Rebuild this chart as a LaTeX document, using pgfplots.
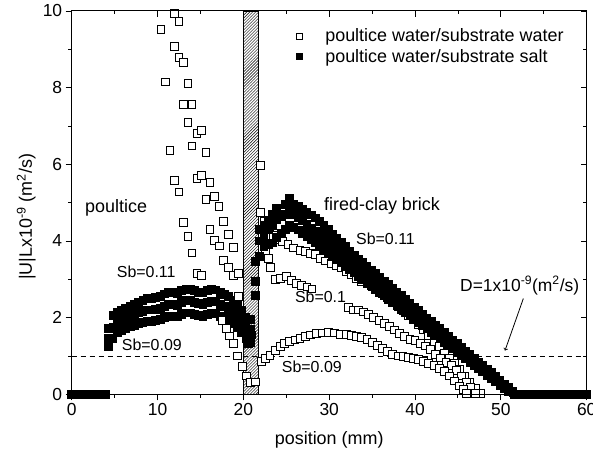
\documentclass[border=0pt]{standalone}
\usepackage{fontspec}
\setmainfont{Liberation Sans}
\usepackage{pgfplots}
\pgfplotsset{compat=1.18}
\usetikzlibrary{patterns}

\pgfplotsset{
  openm/.style={only marks, mark=square*, mark size=3.9bp, mark options={fill=white, draw=black, line width=0.9bp}},
  fillm/.style={only marks, mark=square*, mark size=3.9bp, mark options={fill=black, draw=black, line width=0.9bp}},
}

\begin{document}
\begin{tikzpicture}
\begin{axis}[
  name=main,
  scale only axis, width=515bp, height=383.3bp,
  xmin=0, xmax=60, ymin=0, ymax=10,
  xtick={0,10,...,60}, ytick={0,2,...,10},
  minor x tick num=1, minor y tick num=1,
  xtick pos=left, ytick pos=left,
  tick align=outside,
  major tick length=6bp, minor tick length=3.5bp,
  axis line style={line width=1bp},
  every tick/.style={black, line width=0.9bp},
  tick label style={font=\fontsize{17.5}{19}\selectfont},
  /pgf/number format/assume math mode=true,
  xlabel={position (mm)},
  ylabel={|U|Lx10\textsuperscript{-9} (m\textsuperscript{2}/s)},
  label style={font=\fontsize{18}{20}\selectfont},
  xlabel style={at={(axis description cs:0.5,-0.119)}, anchor=center},
  ylabel style={at={(axis description cs:-0.088,0.463)}, anchor=center},
  legend style={draw=none, fill=none, at={(rel axis cs:0.430,0.964)}, anchor=north west,
    font=\fontsize{18}{20}\selectfont, row sep=2bp,
    /tikz/every odd column/.append style={column sep=21bp}},
  legend cell align=left,
]
\addlegendimage{only marks, mark=square*, mark size=3.0bp, mark options={fill=white, draw=black, line width=0.9bp}}
\addlegendentry{poultice water/substrate water}
\addlegendimage{only marks, mark=square*, mark size=3.0bp, mark options={fill=black, draw=black, line width=0.9bp}}
\addlegendentry{poultice water/substrate salt}

% filled zero strips
\addplot[fillm, forget plot] coordinates {(0,0)(0.5,0)(1,0)(1.5,0)(2,0)(2.5,0)(3,0)(3.5,0)(4,0)};
\addplot[fillm, forget plot] coordinates {(51.6,0)(52,0)(52.5,0)(53,0)(53.5,0)(54,0)(54.5,0)(55,0)(55.5,0)(56,0)(56.5,0)(57,0)(57.5,0)(58,0)(58.5,0)(59,0)(59.5,0)(60,0)};

% filled poultice bands
\addplot[fillm, forget plot] coordinates {(4.3,1.72)(4.8,2.05)(5.3,2.15)(5.8,2.20)(6.3,2.25)(6.8,2.30)(7.3,2.35)(7.8,2.40)(8.3,2.45)(8.8,2.50)(9.3,2.50)(9.8,2.52)(10.3,2.55)(10.8,2.62)(11.3,2.66)(11.8,2.65)(12.3,2.62)(12.8,2.70)(13.3,2.75)(13.8,2.74)(14.3,2.70)(14.8,2.66)(15.3,2.65)(15.8,2.70)(16.3,2.73)(16.8,2.72)(17.3,2.65)(17.8,2.60)(18.3,2.55)(18.8,2.45)(19.3,2.35)(19.8,2.20)(20.3,2.00)(20.8,1.95)};
\addplot[fillm, forget plot] coordinates {(4.3,1.46)(4.8,1.75)(5.3,1.87)(5.8,1.92)(6.3,1.97)(6.8,2.02)(7.3,2.07)(7.8,2.12)(8.3,2.16)(8.8,2.20)(9.3,2.20)(9.8,2.22)(10.3,2.25)(10.8,2.30)(11.3,2.35)(11.8,2.34)(12.3,2.32)(12.8,2.40)(13.3,2.45)(13.8,2.44)(14.3,2.40)(14.8,2.36)(15.3,2.35)(15.8,2.40)(16.3,2.42)(16.8,2.42)(17.3,2.35)(17.8,2.30)(18.3,2.25)(18.8,2.15)(19.3,2.05)(19.8,1.90)(20.3,1.75)(20.8,1.70)};
\addplot[fillm, forget plot] coordinates {(4.3,1.24)(4.8,1.45)(5.3,1.60)(5.8,1.67)(6.3,1.72)(6.8,1.76)(7.3,1.80)(7.8,1.84)(8.3,1.88)(8.8,1.90)(9.3,1.90)(9.8,1.92)(10.3,1.95)(10.8,2.00)(11.3,2.04)(11.8,2.03)(12.3,2.02)(12.8,2.08)(13.3,2.12)(13.8,2.12)(14.3,2.08)(14.8,2.05)(15.3,2.04)(15.8,2.08)(16.3,2.10)(16.8,2.10)(17.3,2.04)(17.8,2.00)(18.3,1.95)(18.8,1.85)(19.3,1.75)(19.8,1.60)(20.3,1.45)(20.8,1.35)};
\addplot[fillm, forget plot] coordinates {(21.4,3.46)(21.4,2.94)(21.4,2.57)(20.6,1.33)(21.0,1.55)};

% open poultice scatter
\addplot[openm, forget plot] coordinates {(10.4,9.52)(11.96,9.94)(12.5,9.72)(11.95,9.07)(12.5,8.79)(13.0,8.65)(10.95,8.15)(13.55,8.10)(13.0,7.57)(14.0,7.57)(13.55,7.09)(14.6,6.81)(15.1,6.88)(11.45,6.37)(14.0,6.48)(15.65,6.30)(11.96,5.57)(14.6,5.63)(15.1,5.70)(16.1,5.52)(12.5,5.28)(15.65,5.09)(16.66,5.16)(17.16,4.91)(13.0,4.48)(13.55,4.11)(14.0,3.69)(14.6,3.16)(15.1,3.11)(17.7,4.50)(16.1,4.31)(18.3,4.18)(16.66,4.01)(17.2,3.87)(18.8,3.83)(17.7,3.50)(18.3,3.31)(18.8,3.11)(19.4,3.15)(19.4,2.56)(17.5,1.92)(18.0,1.72)(18.4,1.52)(18.85,1.33)(19.35,1.0)(19.9,0.72)(20.4,0.48)(20.8,0.3)(21.4,0.32)};

% open brick curves
\addplot[openm, forget plot] coordinates {(21.95,5.98)(22.0,4.75)(22.5,4.5)(23.0,4.3)(23.5,4.15)(24.0,4.05)(24.6,3.98)(25.2,3.9)(25.8,3.82)(26.6,3.76)(27.2,3.72)(27.8,3.68)(28.4,3.65)(29.0,3.55)(29.6,3.48)(30.2,3.42)(30.8,3.37)(31.4,3.3)(32.0,3.2)(32.6,3.12)(33.2,3.03)(33.8,2.95)(34.4,2.88)(35.0,2.8)(35.6,2.72)(36.2,2.62)(36.8,2.52)(37.4,2.42)(38.0,2.3)(38.6,2.18)(39.2,2.06)(39.8,1.95)(40.4,1.82)(41.0,1.68)(41.6,1.52)(42.2,1.38)(42.8,1.24)(43.4,1.08)(44.0,0.94)(44.6,0.8)(45.2,0.64)(45.8,0.48)(46.4,0.32)(47.0,0.16)(47.6,0.02)};
\addplot[openm, forget plot] coordinates {(21.9,4.3)(22.3,4.0)(22.6,3.75)(22.9,3.55)(23.2,3.3)(23.7,3.0)(24.3,3.03)(25.0,3.07)(25.6,2.98)(26.2,2.9)(26.8,2.85)(27.4,2.8)(28.0,2.75)(32.2,2.27)(32.8,2.2)(33.4,2.2)(34.0,2.15)(34.6,2.08)(35.2,2.0)(35.8,1.93)(36.4,1.85)(37.0,1.76)(37.6,1.68)(38.2,1.58)(38.8,1.5)(39.4,1.44)(40.0,1.4)(40.6,1.33)(41.2,1.26)(41.8,1.16)(42.4,1.05)(43.0,0.95)(43.6,0.84)(44.2,0.75)(44.8,0.62)(45.4,0.48)(46.0,0.32)(46.5,0.17)(47.0,0.03)};
\addplot[openm, forget plot] coordinates {(22.1,0.85)(22.6,0.94)(23.1,1.02)(23.7,1.14)(24.3,1.24)(24.8,1.32)(25.4,1.37)(26.0,1.42)(26.6,1.46)(27.2,1.5)(27.8,1.55)(28.5,1.58)(29.2,1.6)(29.9,1.62)(30.6,1.6)(31.3,1.57)(32.0,1.56)(32.6,1.54)(33.2,1.5)(33.8,1.48)(34.4,1.44)(35.0,1.36)(35.6,1.28)(36.2,1.2)(36.8,1.12)(37.4,1.05)(38.0,1.0)(38.6,0.98)(39.2,0.96)(39.8,0.94)(40.4,0.9)(41.0,0.86)(41.6,0.81)(42.2,0.75)(42.8,0.68)(43.4,0.6)(44.0,0.48)(44.6,0.35)(45.2,0.22)(45.6,0.12)(46.0,0.03)};

% filled brick curves
\addplot[fillm, forget plot] coordinates {(21.9,4.3)(22.4,4.4)(22.9,4.55)(23.4,4.7)(23.9,4.85)(24.4,4.7)(24.9,4.95)(25.4,5.1)(25.9,4.95)(26.4,4.9)(26.9,4.82)(27.4,4.75)(27.9,4.68)(28.4,4.6)(28.9,4.5)(29.4,4.4)(29.9,4.3)(30.4,4.18)(30.9,4.07)(31.4,3.96)(31.9,3.85)(32.4,3.74)(32.9,3.63)(33.4,3.53)(33.9,3.43)(34.4,3.34)(34.9,3.24)(35.4,3.15)(35.9,3.05)(36.4,2.95)(36.9,2.86)(37.4,2.76)(37.9,2.67)(38.4,2.57)(38.9,2.47)(39.4,2.38)(39.9,2.28)(40.4,2.19)(40.9,2.09)(41.4,1.99)(41.9,1.90)(42.4,1.80)(42.9,1.71)(43.4,1.61)(43.9,1.52)(44.4,1.42)(44.9,1.32)(45.4,1.23)(45.9,1.13)(46.4,1.04)(46.9,0.94)(47.4,0.84)(47.9,0.75)(48.4,0.65)(48.9,0.56)(49.4,0.46)(49.9,0.36)(50.4,0.27)(50.9,0.17)(51.4,0.08)};
\addplot[fillm, forget plot] coordinates {(21.9,4.0)(22.4,4.15)(22.9,4.3)(23.4,4.4)(23.9,4.55)(24.4,4.65)(24.9,4.7)(25.4,4.75)(25.9,4.7)(26.4,4.62)(26.9,4.53)(27.4,4.43)(27.9,4.34)(28.4,4.25)(28.9,4.16)(29.4,4.07)(29.9,3.98)(30.4,3.88)(30.9,3.79)(31.4,3.70)(31.9,3.61)(32.4,3.52)(32.9,3.43)(33.4,3.33)(33.9,3.24)(34.4,3.15)(34.9,3.06)(35.4,2.97)(35.9,2.88)(36.4,2.78)(36.9,2.69)(37.4,2.60)(37.9,2.51)(38.4,2.42)(38.9,2.33)(39.4,2.24)(39.9,2.14)(40.4,2.05)(40.9,1.96)(41.4,1.87)(41.9,1.78)(42.4,1.69)(42.9,1.59)(43.4,1.50)(43.9,1.41)(44.4,1.32)(44.9,1.23)(45.4,1.14)(45.9,1.04)(46.4,0.95)(46.9,0.86)(47.4,0.77)(47.9,0.68)(48.4,0.59)(48.9,0.49)(49.4,0.40)(49.9,0.31)(50.4,0.22)(50.9,0.13)(51.4,0.04)};
\addplot[fillm, forget plot] coordinates {(21.9,3.6)(22.4,3.85)(22.9,3.9)(23.4,3.95)(23.9,4.1)(24.4,4.2)(24.9,4.3)(25.4,4.4)(25.9,4.35)(26.4,4.29)(26.9,4.20)(27.4,4.12)(27.9,4.03)(28.4,3.95)(28.9,3.86)(29.4,3.77)(29.9,3.69)(30.4,3.60)(30.9,3.51)(31.4,3.43)(31.9,3.34)(32.4,3.26)(32.9,3.17)(33.4,3.08)(33.9,3.00)(34.4,2.91)(34.9,2.83)(35.4,2.74)(35.9,2.65)(36.4,2.57)(36.9,2.48)(37.4,2.40)(37.9,2.31)(38.4,2.22)(38.9,2.14)(39.4,2.05)(39.9,1.96)(40.4,1.88)(40.9,1.79)(41.4,1.71)(41.9,1.62)(42.4,1.53)(42.9,1.45)(43.4,1.36)(43.9,1.28)(44.4,1.19)(44.9,1.10)(45.4,1.02)(45.9,0.93)(46.4,0.84)(46.9,0.76)(47.4,0.67)(47.9,0.59)(48.4,0.50)(48.9,0.41)(49.4,0.33)(49.9,0.24)(50.4,0.16)(50.9,0.07)};

% hatched interface bar
\addplot[forget plot, draw=black, line width=0.9bp, pattern=north east lines] coordinates {(20,0)(20,10)(21.7,10)(21.7,0)} -- cycle;

% dashed reference line
\addplot[forget plot, black, line width=0.9bp, dash pattern=on 5bp off 4bp] coordinates {(0,1)(60,1)};

% annotations
\node[anchor=base west, font=\fontsize{18}{20}\selectfont, inner sep=0pt] at (axis cs:1.55,4.75) {poultice};
\node[anchor=base west, font=\fontsize{18}{20}\selectfont, inner sep=0pt] at (axis cs:29.4,4.79) {fired-clay brick};
\node[anchor=base west, font=\fontsize{16}{18}\selectfont, inner sep=0pt] at (axis cs:5.24,3.04) {Sb=0.11};
\node[anchor=base west, font=\fontsize{16}{18}\selectfont, inner sep=0pt] at (axis cs:5.83,1.14) {Sb=0.09};
\node[anchor=base west, font=\fontsize{16}{18}\selectfont, inner sep=0pt] at (axis cs:33.12,3.9) {Sb=0.11};
\node[anchor=base west, font=\fontsize{16}{18}\selectfont, inner sep=0pt] at (axis cs:26.0,2.39) {Sb=0.1};
\node[anchor=base west, font=\fontsize{16}{18}\selectfont, inner sep=0pt] at (axis cs:24.47,0.56) {Sb=0.09};
\node[anchor=base west, font=\fontsize{17.5}{20}\selectfont, inner sep=0pt] at (axis cs:45.24,2.69) {D=1x10\textsuperscript{-9}(m\textsuperscript{2}/s)};
\draw[->, line width=0.8bp] (axis cs:52.62,2.5) -- (axis cs:50.48,1.14);
\end{axis}

\begin{axis}[
  scale only axis, width=515bp, height=383.3bp,
  xmin=0, xmax=60, ymin=0, ymax=10,
  xtick={0,10,...,60}, ytick={0,2,...,10},
  minor x tick num=1, minor y tick num=1,
  xtick pos=right, ytick pos=right,
  tick align=inside,
  major tick length=6bp, minor tick length=3.5bp,
  axis line style={line width=1bp},
  every tick/.style={black, line width=0.9bp},
  xticklabels={}, yticklabels={},
]
\end{axis}

\pgfresetboundingbox
\path[use as bounding box] (main.south west) ++(-71.7bp,-61.7bp) rectangle ++(593bp,456bp);
\end{tikzpicture}
\end{document}
